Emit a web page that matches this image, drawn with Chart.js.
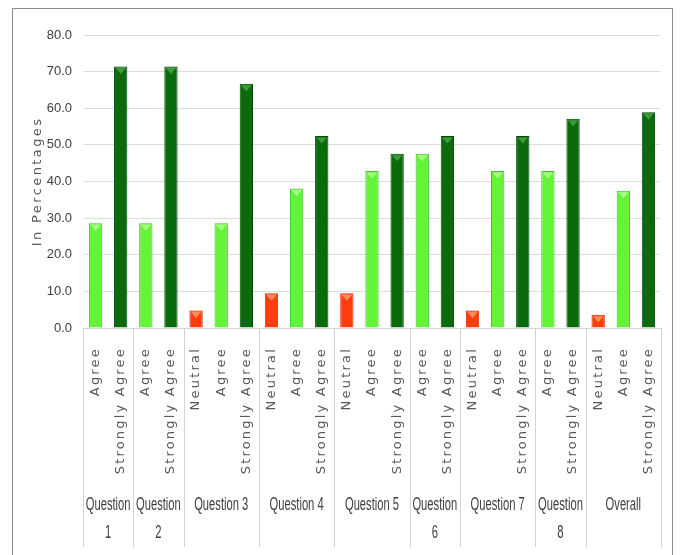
<!DOCTYPE html>
<html><head><meta charset="utf-8">
<script src="https://cdn.jsdelivr.net/npm/chart.js@4.4.1/dist/chart.umd.min.js"></script>
<style>
html,body{margin:0;padding:0;background:#fff;overflow:hidden;width:680px;height:555px;}
#wrap{position:relative;width:680px;height:555px;}
#frame{position:absolute;left:12px;top:8px;width:661px;height:620px;border:1px solid #8a8a8a;box-sizing:border-box;pointer-events:none;}
canvas{position:absolute;left:0;top:0;}
</style></head><body>
<div id="wrap"><canvas id="c" width="680" height="555"></canvas><div id="frame"></div></div>
<script>
// ---- data ----
const groups = ["Question 1","Question 2","Question 3","Question 4","Question 5","Question 6","Question 7","Question 8","Overall"];
const groupSizes = [2,2,3,3,3,2,3,2,3];
const responses = [
  "Agree","Strongly Agree",
  "Agree","Strongly Agree",
  "Neutral","Agree","Strongly Agree",
  "Neutral","Agree","Strongly Agree",
  "Neutral","Agree","Strongly Agree",
  "Agree","Strongly Agree",
  "Neutral","Agree","Strongly Agree",
  "Agree","Strongly Agree",
  "Neutral","Agree","Strongly Agree"
];
const percentages = [
  28.6,71.4,
  28.6,71.4,
  4.8,28.6,66.7,
  9.5,38.1,52.4,
  9.5,42.9,47.6,
  47.6,52.4,
  4.8,42.9,52.4,
  42.9,57.1,
  3.6,37.5,58.9
];
const yTitle = "In Percentages";
const yMin = 0, yMax = 80, yStep = 10;

// ---- styles ----
const fillColors = {"Neutral":"#ff3d0d","Agree":"#63f437","Strongly Agree":"#0b6a0b"};
const edgeColors = {"Neutral":"#d22c00","Agree":"#3fc235","Strongly Agree":"#064806"};
const capColors  = {"Neutral":"#ff8a60","Agree":"#a9ff86","Strongly Agree":"#3f9a3f"};
const SANS = "'Liberation Sans', Arial, sans-serif";
const NARROW_X = 0.8, STRETCH_Y = 1.25;

const multiLevel = {
  id: 'multiLevel',
  afterDatasetsDraw(chart){
    const ctx = chart.ctx;
    const meta = chart.getDatasetMeta(0);
    ctx.save();
    meta.data.forEach((bar,i)=>{
      const w = bar.width, x = bar.x, y = bar.y;
      const h = Math.min(6, (bar.base - y) / 2);
      ctx.fillStyle = capColors[responses[i]];
      ctx.beginPath();
      ctx.moveTo(x - w/2 + 1.5, y + 1.5);
      ctx.lineTo(x + w/2 - 1.5, y + 1.5);
      ctx.lineTo(x, y + 1.5 + h);
      ctx.closePath();
      ctx.fill();
    });
    ctx.restore();
  },
  afterDraw(chart){
    const ctx = chart.ctx;
    const xs = chart.scales.x;
    const area = chart.chartArea;
    const n = responses.length;
    const step = (xs.getPixelForValue(1) - xs.getPixelForValue(0));
    const axisY = area.bottom;
    const sepBottom = 547;
    ctx.save();
    ctx.strokeStyle = '#d4d4d4';
    ctx.lineWidth = 1;
    ctx.beginPath();
    const leftEdge = xs.getPixelForValue(0) - step/2;
    const rightEdge = xs.getPixelForValue(n-1) + step/2;
    ctx.moveTo(leftEdge, Math.round(axisY)+0.5);
    ctx.lineTo(rightEdge, Math.round(axisY)+0.5);
    ctx.stroke();
    let idx = 0;
    const bounds = [leftEdge];
    groups.forEach((g,gi)=>{
      idx += groupSizes[gi];
      bounds.push(xs.getPixelForValue(idx-1) + step/2);
    });
    ctx.beginPath();
    bounds.forEach(b=>{
      const bx = Math.round(b)+0.5;
      ctx.moveTo(bx, axisY);
      ctx.lineTo(bx, sepBottom);
    });
    ctx.stroke();

    // response labels (rotated)
    ctx.fillStyle = '#595959';
    ctx.font = "13px 'DejaVu Sans', Verdana, sans-serif";
    try { ctx.letterSpacing = '2.2px'; } catch(e){}
    for (let i=0;i<n;i++){
      const x = xs.getPixelForValue(i);
      ctx.save();
      ctx.translate(x, 347);
      ctx.rotate(-Math.PI/2);
      ctx.textAlign = 'right';
      ctx.textBaseline = 'middle';
      ctx.fillText(responses[i], 0, 0);
      ctx.restore();
    }
    // y title
    ctx.save();
    ctx.translate(38, (area.top + area.bottom)/2);
    ctx.rotate(-Math.PI/2);
    ctx.textAlign = 'center';
    ctx.textBaseline = 'middle';
    try { ctx.letterSpacing = '2.4px'; } catch(e){}
    ctx.fillText(yTitle, 0, 0);
    ctx.restore();
    try { ctx.letterSpacing = '0px'; } catch(e){}

    // group labels
    ctx.fillStyle = '#404040';
    ctx.font = "14px " + SANS;
    ctx.textAlign = 'center';
    ctx.textBaseline = 'middle';
    groups.forEach((g,gi)=>{
      const cx = (bounds[gi] + bounds[gi+1]) / 2;
      const avail = bounds[gi+1] - bounds[gi] - 2;
      let lines = [g];
      if (ctx.measureText(g).width * NARROW_X > avail) {
        const k = g.lastIndexOf(' ');
        lines = [g.slice(0,k), g.slice(k+1)];
      }
      lines.forEach((t,li)=>{
        ctx.save();
        ctx.translate(cx, 505 + li*28);
        ctx.scale(NARROW_X, STRETCH_Y);
        ctx.fillText(t, 0, 0);
        ctx.restore();
      });
    });
    ctx.restore();
  }
};

new Chart(document.getElementById('c'), {
  type: 'bar',
  data: {
    labels: responses,
    datasets: [{
      data: percentages,
      backgroundColor: responses.map(r=>fillColors[r]),
      borderColor: responses.map(r=>edgeColors[r]),
      borderWidth: 1,
      barPercentage: 0.53,
      categoryPercentage: 1.0
    }]
  },
  options: {
    responsive: false,
    animation: false,
    devicePixelRatio: 1,
    layout: { padding: { left: 0, top: 35, right: 19, bottom: 0 } },
    plugins: { legend: { display: false }, tooltip: { enabled: false } },
    scales: {
      x: {
        grid: { display: false },
        border: { display: false },
        ticks: { display: false },
        afterFit(s){ s.height = 227; }
      },
      y: {
        min: yMin, max: yMax,
        grid: { color: '#dcdcdc', lineWidth: 1, drawTicks: false },
        border: { display: false },
        ticks: {
          stepSize: yStep,
          padding: 11,
          color: '#404040',
          font: { family: SANS, size: 13 },
          callback: v => Number(v).toFixed(1)
        },
        afterFit(s){ s.width = 83; }
      }
    }
  },
  plugins: [multiLevel]
});
</script>
</body></html>
